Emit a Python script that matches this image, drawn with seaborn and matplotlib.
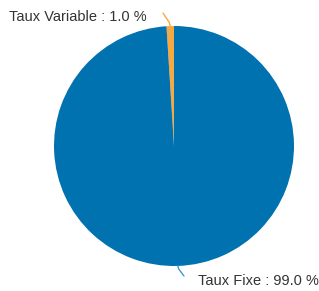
import numpy as np
import matplotlib
matplotlib.use("Agg")
import matplotlib.pyplot as plt
import seaborn as sns

categories = ["Taux Variable", "Taux Fixe"]
shares = [1.0, 99.0]
colors = ["#f7a941", "#0072b0"]

sns.set_style("white")
plt.rcParams["font.family"] = ["Liberation Sans", "DejaVu Sans"]

fig = plt.figure(figsize=(3.19, 2.91), dpi=100)
ax = fig.add_axes([54 / 319, 25 / 291, 240 / 319, 240 / 291])

wedges, _ = ax.pie(shares, colors=colors, startangle=90, counterclock=True,
                   radius=1.0, wedgeprops={"linewidth": 0})
ax.set_xlim(-1, 1)
ax.set_ylim(-1, 1)
ax.set_aspect("equal")
ax.axis("off")

# leader line end and label anchor per wedge (axes data units)
line_end = {0: (-0.092, 1.108), 1: (0.083, -1.083)}
label_pos = {0: (-0.225, 1.075, "right"), 1: (0.2, -1.125, "left")}
line_color = {0: "#f7a941", 1: "#3a9ad0"}
for i, w in enumerate(wedges):
    ang = np.deg2rad((w.theta1 + w.theta2) / 2)
    x, y = np.cos(ang), np.sin(ang)
    ex, ey = line_end[i]
    mx, my = x + (ex - x) * 0.15, y + (ey - y) * 0.3
    ax.plot([x, mx, ex], [y, my, ey], color=line_color[i], lw=1, clip_on=False)
    tx, ty, ha = label_pos[i]
    ax.text(tx, ty, f"{categories[i]} : {shares[i]:.1f} %",
            ha=ha, va="center", fontsize=10.5, color="#333333", clip_on=False)

fig.savefig("out.png", dpi=100)
